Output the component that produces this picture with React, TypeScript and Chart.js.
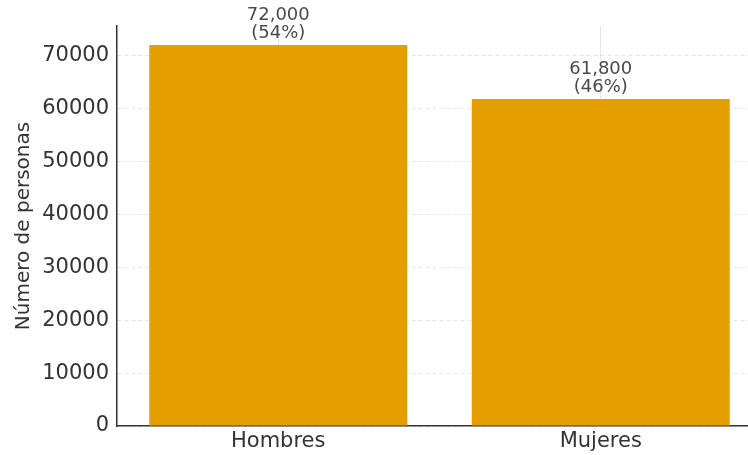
import React, { useEffect, useRef } from "react";
import { Chart, registerables } from "chart.js";

Chart.register(...registerables);

const categories = ["Hombres", "Mujeres"];
const personas = [72000, 61800];
const yTicks = [0, 10000, 20000, 30000, 40000, 50000, 60000, 70000];
const yMax = 75600;
const barColor = "#E69F00";
const FONT = "'DejaVu Sans', sans-serif";

const annotatePlugin = {
  id: "annotate",
  afterDatasetsDraw(chart: any) {
    const ctx = chart.ctx;
    const meta = chart.getDatasetMeta(0);
    const total = personas.reduce((a, b) => a + b, 0);
    ctx.save();
    ctx.font = `18px ${FONT}`;
    ctx.fillStyle = "#4a4a4a";
    ctx.textAlign = "center";
    ctx.textBaseline = "alphabetic";
    meta.data.forEach((bar: any, i: number) => {
      const v = personas[i];
      const pct = Math.round((v / total) * 100);
      ctx.fillText(`(${pct}%)`, bar.x, bar.y - 7);
      ctx.fillText(v.toLocaleString("en-US"), bar.x, bar.y - 25);
    });
    ctx.restore();
  },
};

export default function App() {
  const ref = useRef<HTMLCanvasElement>(null);
  useEffect(() => {
    if (!ref.current) return;
    const chart = new Chart(ref.current, {
      type: "bar",
      data: {
        labels: categories,
        datasets: [
          {
            data: personas,
            backgroundColor: barColor,
            borderWidth: 0,
            categoryPercentage: 0.8,
            barPercentage: 1.0,
          },
        ],
      },
      options: {
        responsive: false,
        animation: false,
        layout: { padding: { top: 26, right: 18, left: 0, bottom: 0 } },
        plugins: { legend: { display: false }, tooltip: { enabled: false } },
        scales: {
          x: {
            z: 1,
            offset: true,
            grid: {
              offset: false,
              color: "rgba(0,0,0,0.10)",
              lineWidth: 1,
              drawTicks: false,
            },
            border: { display: true, color: "#333333", width: 1.5, dash: [] },
            ticks: {
              color: "#333333",
              font: { family: FONT, size: 21 },
              padding: 3,
            },
            afterFit: (scale: any) => {
              scale.height = 29;
            },
          },
          y: {
            z: 1,
            min: 0,
            max: yMax,
            afterBuildTicks: (scale: any) => {
              scale.ticks = yTicks.map((v) => ({ value: v }));
            },
            grid: {
              color: "rgba(0,0,0,0.10)",
              lineWidth: 1,
              drawTicks: false,
            },
            border: { display: true, color: "#333333", width: 1.5, dash: [4, 3] },
            ticks: {
              color: "#333333",
              font: { family: FONT, size: 21 },
              padding: 8,
              callback: (v: any) => String(v),
            },
            title: {
              display: true,
              text: "Número de personas",
              color: "#333333",
              font: { family: FONT, size: 20 },
              padding: { top: 12, bottom: 4 },
            },
            afterFit: (scale: any) => {
              scale.width = 117;
            },
          },
        },
      },
      plugins: [annotatePlugin],
    });
    return () => chart.destroy();
  }, []);
  return (
    <div
      style={{
        position: "fixed",
        left: 0,
        top: 0,
        width: 748,
        height: 455,
        overflow: "hidden",
        background: "#ffffff",
      }}
    >
      <canvas ref={ref} width={780} height={455} style={{ display: "block" }} />
    </div>
  );
}
